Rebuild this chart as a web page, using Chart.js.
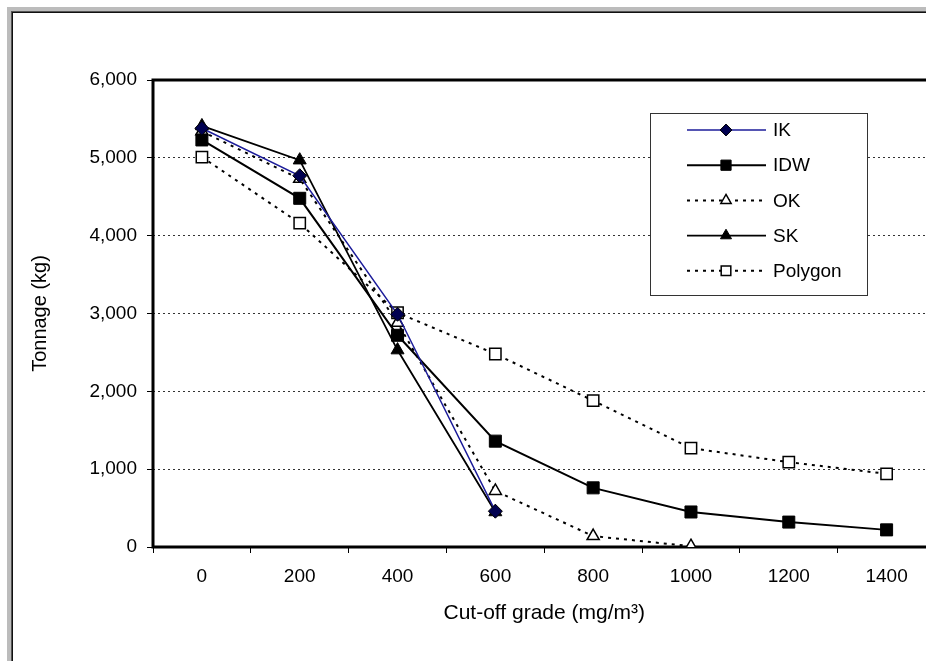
<!DOCTYPE html>
<html>
<head>
<meta charset="utf-8">
<script src="https://cdn.jsdelivr.net/npm/chart.js@4/dist/chart.umd.min.js"></script>
<style>
html,body{margin:0;padding:0;background:#fff;overflow:hidden;width:926px;height:661px;}
#wrap{position:absolute;left:0;top:0;width:945px;height:661px;}
#frame1{position:absolute;left:7px;top:7px;width:940px;height:670px;border-left:4px solid #bcbcbc;border-top:4px solid #bcbcbc;box-sizing:border-box;pointer-events:none;}
#frame2{position:absolute;left:11px;top:11px;width:940px;height:670px;border-left:1px solid #555;border-top:1px solid #555;box-sizing:border-box;pointer-events:none;}
#frame3{position:absolute;left:12px;top:12px;width:940px;height:670px;border-left:1px solid #111;border-top:1px solid #111;box-sizing:border-box;pointer-events:none;}
</style>
</head>
<body>
<div id="wrap"><canvas id="c" width="945" height="661"></canvas></div>
<div id="frame1"></div><div id="frame2"></div><div id="frame3"></div>
<script>
const categories = ['0','200','400','600','800','1000','1200','1400'];
const seriesNames = ['IK','IDW','OK','SK','Polygon'];
const ikValues      = [5380, 4770, 2990, 460, null, null, null, null];
const idwValues     = [5230, 4480, 2720, 1360, 760, 450, 320, 220];
const okValues      = [5340, 4730, 2880, 720, 140, 10, null, null];
const skValues      = [5410, 4970, 2530, 450, null, null, null, null];
const polygonValues = [5010, 4160, 3010, 2480, 1880, 1270, 1090, 940];
const yTicks = [0, 1000, 2000, 3000, 4000, 5000, 6000];
const xTitle = 'Cut-off grade (mg/m³)';
const yTitle = 'Tonnage (kg)';

const FONT = 'Liberation Sans, Arial, sans-serif';

const datasets = [
  {label: seriesNames[0], data: ikValues, borderColor: '#1c1c9a', borderWidth: 1.5,
   pointStyle: 'rectRot', pointRadius: 7, pointBackgroundColor: '#000050', pointBorderColor: '#000', pointBorderWidth: 1},
  {label: seriesNames[1], data: idwValues, borderColor: '#000', borderWidth: 2,
   pointStyle: 'rect', pointRadius: 8.5, pointBackgroundColor: '#000', pointBorderColor: '#000', pointBorderWidth: 1},
  {label: seriesNames[2], data: okValues, borderColor: '#000', borderWidth: 2, borderDash: [3, 5],
   pointStyle: 'triangle', pointRadius: 7, pointBackgroundColor: '#fff', pointBorderColor: '#000', pointBorderWidth: 1.5},
  {label: seriesNames[3], data: skValues, borderColor: '#000', borderWidth: 1.8,
   pointStyle: 'triangle', pointRadius: 7.5, pointBackgroundColor: '#000', pointBorderColor: '#000', pointBorderWidth: 1},
  {label: seriesNames[4], data: polygonValues, borderColor: '#000', borderWidth: 2, borderDash: [3, 5],
   pointStyle: 'rect', pointRadius: 8, pointBackgroundColor: '#fff', pointBorderColor: '#000', pointBorderWidth: 1.5}
];
datasets.forEach(d => { d.fill = false; d.tension = 0; d.spanGaps = false; d.pointHoverRadius = d.pointRadius; });

function drawMarker(ctx, style, x, y, r, fill, stroke, lw) {
  ctx.save();
  ctx.fillStyle = fill; ctx.strokeStyle = stroke; ctx.lineWidth = lw; ctx.setLineDash([]);
  ctx.beginPath();
  if (style === 'rect') {
    const s = Math.SQRT1_2 * r;
    ctx.rect(x - s, y - s, 2 * s, 2 * s);
  } else if (style === 'rectRot') {
    ctx.moveTo(x - r, y); ctx.lineTo(x, y - r); ctx.lineTo(x + r, y); ctx.lineTo(x, y + r); ctx.closePath();
  } else if (style === 'triangle') {
    const half = r * Math.sqrt(3) / 2;
    ctx.moveTo(x, y - r); ctx.lineTo(x + half, y + r / 2); ctx.lineTo(x - half, y + r / 2); ctx.closePath();
  }
  ctx.fill(); ctx.stroke();
  ctx.restore();
}

const framePlugin = {
  id: 'framePlugin',
  beforeDatasetsDraw(chart) {
    const {ctx, chartArea: a} = chart;
    ctx.save();
    ctx.strokeStyle = '#000'; ctx.lineWidth = 3; ctx.setLineDash([]);
    ctx.beginPath();
    ctx.moveTo(a.left, a.top); ctx.lineTo(a.right + 10, a.top);
    ctx.moveTo(a.left, a.top - 1.5); ctx.lineTo(a.left, a.bottom + 1.5);
    ctx.moveTo(a.left - 1.5, a.bottom); ctx.lineTo(a.right + 10, a.bottom);
    ctx.stroke();
    ctx.restore();
  },
  afterDatasetsDraw(chart) {
    const {ctx} = chart;
    const bx = 650.5, by = 113.5, bw = 217, bh = 182;
    ctx.save();
    ctx.fillStyle = '#fff'; ctx.fillRect(bx, by, bw, bh);
    ctx.strokeStyle = '#333'; ctx.lineWidth = 1; ctx.strokeRect(bx, by, bw, bh);
    chart.data.datasets.forEach((d, i) => {
      const y = 130 + i * 35.2;
      ctx.save();
      ctx.strokeStyle = d.borderColor; ctx.lineWidth = d.borderWidth;
      ctx.setLineDash(d.borderDash || []);
      ctx.beginPath(); ctx.moveTo(687, y); ctx.lineTo(766, y); ctx.stroke();
      ctx.restore();
      drawMarker(ctx, d.pointStyle, 726, y, d.pointRadius * 0.85, d.pointBackgroundColor, d.pointBorderColor, d.pointBorderWidth);
      ctx.fillStyle = '#000'; ctx.font = '19px ' + FONT; ctx.textBaseline = 'middle'; ctx.textAlign = 'left';
      ctx.fillText(d.label, 773, y + 1);
    });
    ctx.restore();
  }
};

new Chart(document.getElementById('c'), {
  type: 'line',
  data: {labels: categories, datasets: datasets},
  options: {
    responsive: false,
    animation: false,
    events: [],
    layout: {padding: {left: 0, top: 80, right: 8, bottom: 0}},
    plugins: {legend: {display: false}, tooltip: {enabled: false}},
    scales: {
      x: {
        type: 'category',
        offset: true,
        grid: {offset: true, drawOnChartArea: false, drawTicks: true, tickLength: 6, tickColor: '#000', tickWidth: 1},
        border: {display: false},
        ticks: {color: '#000', font: {family: FONT, size: 19}, padding: 12, maxRotation: 0, autoSkip: false},
        title: {display: true, text: xTitle, color: '#000', font: {family: FONT, size: 21}, padding: {top: 0, bottom: 35}},
        afterFit(s) { s.height = 114; }
      },
      y: {
        min: 0, max: 6000,
        afterBuildTicks(s) { s.ticks = yTicks.map(v => ({value: v})); },
        grid: {color: '#333', lineWidth: 1, drawTicks: true, tickLength: 6, tickColor: '#000', tickWidth: 1, tickBorderDash: []},
        border: {display: false, dash: [2, 3]},
        ticks: {color: '#000', font: {family: FONT, size: 19}, padding: 10,
          callback: v => v.toLocaleString('en-US')},
        title: {display: true, text: yTitle, color: '#000', font: {family: FONT, size: 20}, padding: {top: 28, bottom: 0}},
        afterFit(s) { s.width = 153; }
      }
    }
  },
  plugins: [framePlugin]
});
</script>
</body>
</html>
